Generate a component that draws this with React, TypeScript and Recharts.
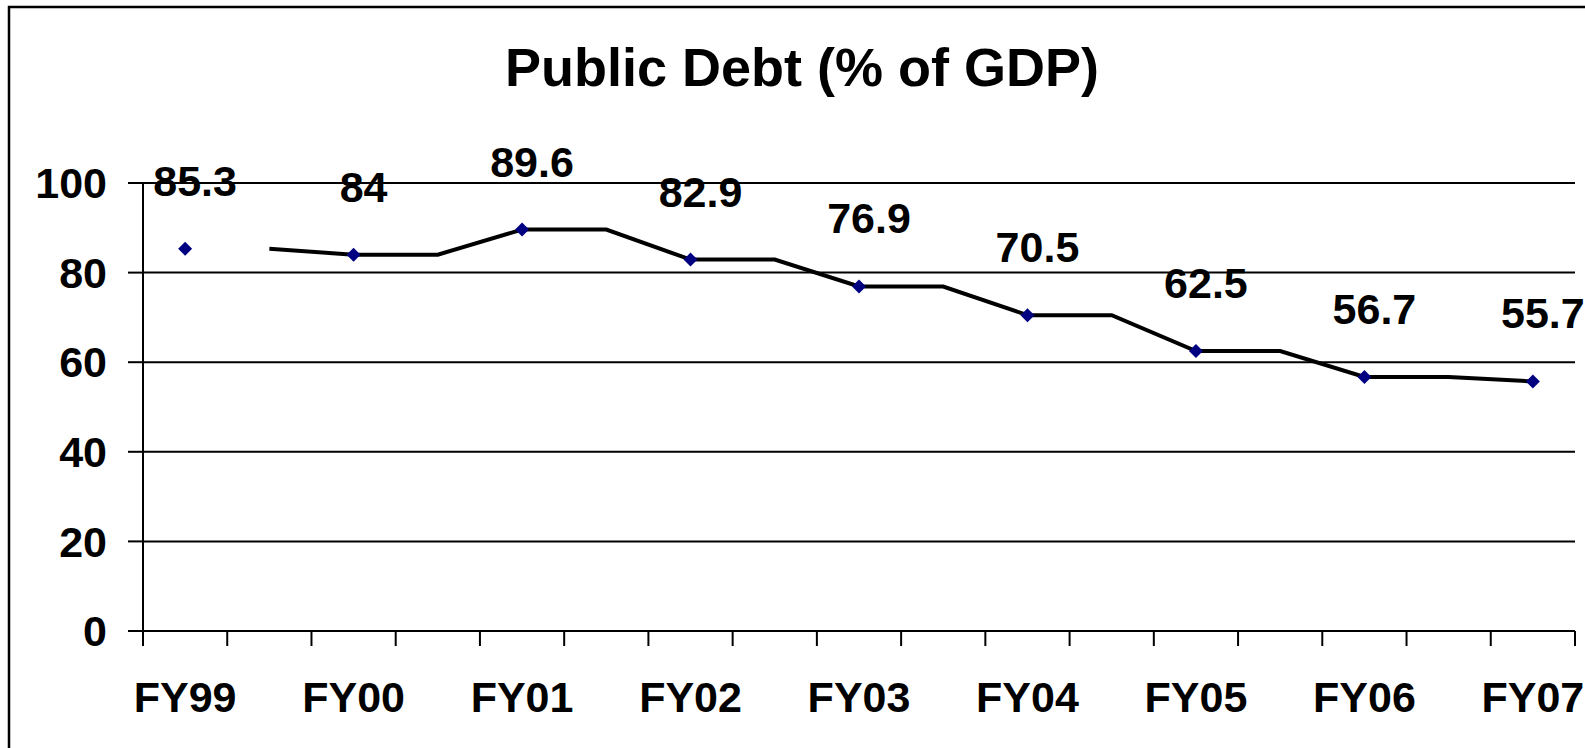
import {
  LineChart,
  Line,
  XAxis,
  YAxis,
  CartesianGrid,
  LabelList,
} from "recharts";

const FONT = "'Liberation Sans', Arial, sans-serif";

// fiscal years shown under the axis (one every second slot)
const years = ["FY99", "FY00", "FY01", "FY02", "FY03", "FY04", "FY05", "FY06", "FY07"];
// labelled points (% of GDP)
const debt = [85.3, 84, 89.6, 82.9, 76.9, 70.5, 62.5, 56.7, 55.7];
// the black stepped line, one value per half-year slot (nothing in the FY99 slot)
const stepLine = [
  null, 85.3, 84, 84, 89.6, 89.6, 82.9, 82.9, 76.9, 76.9, 70.5, 70.5, 62.5, 62.5,
  56.7, 56.7, 55.7,
];
const yTicks = [0, 20, 40, 60, 80, 100];

const data = stepLine.map((v, k) => ({
  slot: k,
  marker: k % 2 === 0 ? debt[k / 2] : null,
  line: v,
}));

// tick marks sit on slot boundaries, labels on the even slots
const boundaries = stepLine.map((_, k) => k - 0.5).concat(stepLine.length - 0.5);
const labelSlots = years.map((_, i) => i * 2);
const xTicks = [...boundaries, ...labelSlots].sort((a, b) => a - b);

const XTick = (props: any) => {
  const { x, y, payload } = props;
  const v = payload.value;
  if (!Number.isInteger(v)) {
    return <line x1={x} x2={x} y1={y} y2={y + 15} stroke="#000" strokeWidth={2} />;
  }
  return (
    <text
      x={x}
      y={y + 81}
      textAnchor="middle"
      fontFamily={FONT}
      fontWeight="bold"
      fontSize={43}
      fill="#000"
    >
      {years[v / 2]}
    </text>
  );
};

const Diamond = (props: any) => {
  const { cx, cy, value } = props;
  if (value == null || cx == null || cy == null) return null;
  const r = 7;
  return (
    <path
      d={`M${cx},${cy - r}L${cx + r},${cy}L${cx},${cy + r}L${cx - r},${cy}Z`}
      fill="#000080"
    />
  );
};

const PointLabel = (props: any) => {
  const { x, y, value } = props;
  if (value == null) return null;
  return (
    <text
      x={x + 10}
      y={y - 53}
      textAnchor="middle"
      fontFamily={FONT}
      fontWeight="bold"
      fontSize={43}
      fill="#000"
    >
      {value}
    </text>
  );
};

export default function App() {
  return (
    <div
      style={{
        position: "absolute",
        left: 0,
        top: 0,
        width: 1585,
        height: 748,
        overflow: "hidden",
        background: "#fff",
      }}
    >
      <LineChart
        width={1585}
        height={748}
        data={data}
        margin={{ top: 183, right: 10, bottom: 57, left: 43 }}
      >
        <CartesianGrid vertical={false} stroke="#000" strokeWidth={2} />
        <XAxis
          dataKey="slot"
          type="number"
          domain={[-0.5, stepLine.length - 0.5]}
          ticks={xTicks}
          interval={0}
          height={60}
          tickSize={0}
          tickMargin={0}
          tickLine={false}
          axisLine={{ stroke: "#000", strokeWidth: 2 }}
          tick={<XTick />}
        />
        <YAxis
          domain={[0, 100]}
          ticks={yTicks}
          width={100}
          tickSize={15}
          tickMargin={21}
          axisLine={{ stroke: "#000", strokeWidth: 2 }}
          tickLine={{ stroke: "#000", strokeWidth: 2 }}
          tick={{ fontSize: 43, fontWeight: "bold", fill: "#000", fontFamily: FONT }}
        />
        <Line
          dataKey="line"
          stroke="#000"
          strokeWidth={4}
          dot={false}
          activeDot={false}
          isAnimationActive={false}
        />
        <Line
          dataKey="marker"
          stroke="none"
          dot={<Diamond />}
          activeDot={false}
          isAnimationActive={false}
        >
          <LabelList dataKey="marker" content={<PointLabel />} />
        </Line>
      </LineChart>
      <svg
        width={1585}
        height={748}
        style={{ position: "absolute", left: 0, top: 0, pointerEvents: "none" }}
      >
        <rect x={9} y={7} width={1700} height={800} fill="none" stroke="#000" strokeWidth={2.5} />
        <text
          x={802}
          y={86}
          textAnchor="middle"
          fontFamily={FONT}
          fontWeight="bold"
          fontSize={54}
          fill="#000"
        >
          Public Debt (% of GDP)
        </text>
      </svg>
    </div>
  );
}
